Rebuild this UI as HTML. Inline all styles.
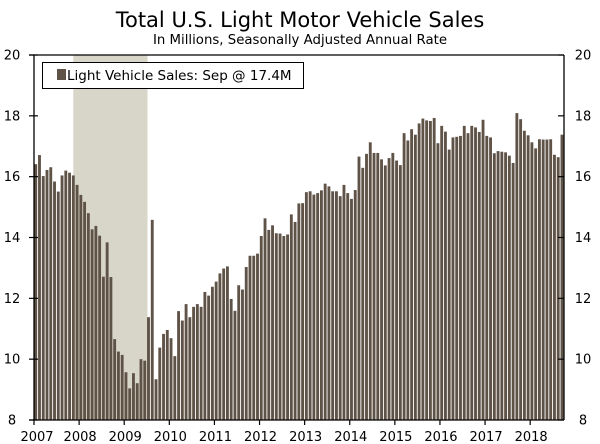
<!DOCTYPE html>
<html><head><meta charset="utf-8"><style>
body{margin:0;background:#fff;}
svg{display:block;font-family:"DejaVu Sans","Liberation Sans",sans-serif;}
</style></head><body>
<svg id="chart" width="600" height="444" viewBox="0 0 600 444">
<text x="300" y="27" text-anchor="middle" font-size="21" fill="#000">Total U.S. Light Motor Vehicle Sales</text>
<text x="300" y="44" text-anchor="middle" font-size="13.3" fill="#000">In Millions, Seasonally Adjusted Annual Rate</text>
<g id="plot"></g>
</svg>
<script>
const yearLabels=["2007","2008","2009","2010","2011","2012","2013","2014","2015","2016","2017","2018"];
const yTicks=[8,10,12,14,16,18,20];
const recession=[10.45,30.2];
const sales=[16.41,16.71,16.02,16.22,16.31,15.84,15.51,16.04,16.20,16.13,16.04,15.73,
15.40,15.17,14.80,14.27,14.38,14.06,12.71,13.84,12.70,10.66,10.25,10.14,
9.57,9.04,9.54,9.21,10.0,9.95,11.38,14.58,9.34,10.38,10.83,10.96,
10.69,10.1,11.58,11.27,11.81,11.38,11.72,11.81,11.72,12.21,12.09,12.38,
12.55,12.82,12.98,13.05,11.98,11.59,12.43,12.29,13.03,13.40,13.40,13.47,
14.05,14.63,14.25,14.40,14.14,14.13,14.05,14.1,14.76,14.51,15.12,15.13,
15.49,15.52,15.41,15.46,15.55,15.77,15.68,15.52,15.52,15.36,15.73,15.46,
15.27,15.56,16.66,16.29,16.75,17.13,16.78,16.78,16.57,16.37,16.61,16.78,
16.53,16.38,17.43,17.19,17.56,17.38,17.75,17.91,17.85,17.83,17.93,17.10,
17.67,17.48,16.89,17.29,17.31,17.34,17.67,17.43,17.67,17.62,17.47,17.87,
17.34,17.29,16.77,16.84,16.82,16.80,16.69,16.45,18.09,17.89,17.51,17.36,
17.13,16.93,17.23,17.22,17.22,17.23,16.72,16.64,17.38];
const NS="http://www.w3.org/2000/svg";
const X0=34,X1=564,Y0=420,Y1=55,N=141,W=(X1-X0)/N;
const xs=i=>X0+i*W;
const ys=v=>Y0-(v-8)/(20-8)*(Y0-Y1);
const g=document.getElementById('plot');
function mk(t,a){const e=document.createElementNS(NS,t);for(const k in a)e.setAttribute(k,a[k]);g.appendChild(e);return e;}
let r=mk('rect',{x:xs(recession[0]),y:Y1,width:(recession[1]-recession[0])*W,height:Y0-Y1,fill:'#d8d5c9'});


sales.forEach((v,i)=>{
 const b=mk('rect',{x:xs(i)+0.3,y:ys(v),width:W-0.9,height:Y0-ys(v),fill:'#5f5247'});
 
 
});
mk('line',{x1:X0,y1:Y1,x2:X0,y2:Y0,stroke:'#000','stroke-width':1.3});
mk('line',{x1:X1,y1:Y1,x2:X1,y2:Y0,stroke:'#000','stroke-width':1.3});
mk('line',{x1:29,y1:Y1,x2:X1,y2:Y1,stroke:'#000','stroke-width':1.3});
mk('line',{x1:29,y1:Y0,x2:X1,y2:Y0,stroke:'#000','stroke-width':1.3});
yTicks.forEach(t=>{
 const y=ys(t);
 mk('line',{x1:29,y1:y,x2:X0+4,y2:y,stroke:'#000','stroke-width':1.2});
 mk('line',{x1:X1-6,y1:y,x2:X1,y2:y,stroke:'#000','stroke-width':1.2});
 const l=mk('text',{x:12,y:y+4.5,'text-anchor':'middle','font-size':13});l.textContent=t;
 
 
 const rr=mk('text',{x:583,y:y+4.5,'text-anchor':'middle','font-size':13});rr.textContent=t;
 
 
});
yearLabels.forEach((s,k)=>{
 const x=xs(k*12);
 mk('line',{x1:x,y1:Y0,x2:x,y2:Y0+5,stroke:'#000','stroke-width':1.2});
 const t=mk('text',{x:k==0?x+3:x+1,y:Y0+21,'text-anchor':'middle','font-size':13});t.textContent=s;
 
 
});
const lb=mk('rect',{x:42.5,y:62.5,width:261,height:26,fill:'#fff',stroke:'#000','stroke-width':1});


const sw=mk('rect',{x:57,y:69,width:9,height:11,fill:'#5f5247'});


const lt=mk('text',{x:67,y:80,'font-size':13.5});lt.textContent='Light Vehicle Sales: Sep @ 17.4M';


</script>
</body></html>
